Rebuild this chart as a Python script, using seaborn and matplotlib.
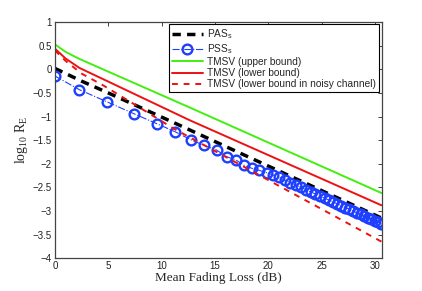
import numpy as np
import pandas as pd
import seaborn as sns
import matplotlib.pyplot as plt

# Data (x = mean fading loss in dB, y = log10 R_E)
pas_x = [0, 2.5, 5, 11.25, 20, 30.6]
pas_y = [0.02, -0.25, -0.5, -1.14, -2.05, -3.15]

pss_x = [0, 2.28, 4.9, 7.4, 9.53, 11.25, 12.72, 13.96, 15.15, 16.09, 16.96,
         17.71, 18.49, 19.15, 19.84, 20.46, 21.02, 21.56, 22.08, 22.58, 23.06,
         23.53, 23.98, 24.42, 24.85, 25.27, 25.68, 26.08, 26.47, 26.85, 27.22,
         27.59, 27.95, 28.30, 28.65, 28.99, 29.32, 29.65, 29.97, 30.29, 30.6]
pss_y = [-0.14, -0.43, -0.69, -0.94, -1.15, -1.32, -1.49, -1.61, -1.71, -1.85,
         -1.92, -2.03, -2.10, -2.14, -2.19, -2.24, -2.29, -2.35, -2.40, -2.45,
         -2.50, -2.55, -2.60, -2.64, -2.68, -2.73, -2.77, -2.81, -2.85, -2.89,
         -2.93, -2.96, -3.00, -3.04, -3.07, -3.11, -3.14, -3.17, -3.21, -3.24,
         -3.27]

upper_x = [0, 1, 2.3, 12.65, 30.6]
upper_y = [0.53, 0.37, 0.22, -0.81, -2.62]

lower_x = [0, 1, 2.3, 12.65, 30.6]
lower_y = [0.44, 0.23, 0.03, -1.08, -2.88]

noisy_x = [0, 1, 2.5, 4.53, 7.8, 11.09, 30.6]
noisy_y = [0.40, 0.18, -0.09, -0.34, -0.79, -1.25, -3.65]

sns.set_style('white')
plt.rcParams['font.family'] = ['Liberation Sans', 'DejaVu Sans']
plt.rcParams['mathtext.fontset'] = 'custom'
plt.rcParams['mathtext.rm'] = 'Liberation Serif'
plt.rcParams['mathtext.it'] = 'Liberation Serif:italic'
plt.rcParams['mathtext.sf'] = 'Liberation Sans'

fig = plt.figure(figsize=(4.22, 2.91), dpi=100)
ax = fig.add_axes([0.130, 0.113, 0.775, 0.811])

blue = '#1f3fff'
sns.lineplot(x=pas_x, y=pas_y, ax=ax, color='black', linestyle=(0, (2.4, 1.8)),
             linewidth=2.5, label=r'PAS$_\mathsf{s}$', sort=False)
sns.lineplot(x=pss_x, y=pss_y, ax=ax, color=blue, linestyle='-.',
             linewidth=0.8, marker='o', markersize=7, markeredgewidth=1.7,
             markerfacecolor='none', markeredgecolor=blue,
             label=r'PSS$_\mathsf{s}$', sort=False)
sns.lineplot(x=upper_x, y=upper_y, ax=ax, color='#44ee11', linewidth=1.4,
             label='TMSV (upper bound)', sort=False)
sns.lineplot(x=lower_x, y=lower_y, ax=ax, color='#ee1111', linewidth=1.4,
             label='TMSV (lower bound)', sort=False)
sns.lineplot(x=noisy_x, y=noisy_y, ax=ax, color='#ee1111', linewidth=1.4,
             linestyle=(0, (3, 3)),
             label='TMSV (lower bound in noisy channel)', sort=False)

ax.set_xlim(0, 30.65)
ax.set_ylim(-4, 1)
ax.set_xticks([0, 5, 10, 15, 20, 25, 30])
ax.set_yticks(np.arange(-4, 1.01, 0.5))
ax.set_yticklabels(['\u22124', '\u22123.5', '\u22123', '\u22122.5', '\u22122',
                    '\u22121.5', '\u22121', '\u22120.5', '0', '0.5', '1'])
ax.tick_params(direction='in', length=3, width=0.6, top=True, right=True,
               labelsize=7, pad=2, colors='#222222')
for s in ax.spines.values():
    s.set_color('#444444')
    s.set_linewidth(0.9)

ax.set_xlabel('Mean Fading Loss (dB)', family='Liberation Serif', fontsize=9.5,
              labelpad=1)
ax.set_ylabel(r'$\mathrm{log_{10}\ R_E}$', fontsize=10, labelpad=2)

leg = ax.legend(loc='upper right', bbox_to_anchor=(0.99, 0.99), borderaxespad=0,
                fontsize=7.3, handlelength=3.0, handletextpad=0.4,
                labelspacing=0.12, borderpad=0.3, fancybox=False,
                framealpha=1, edgecolor='black')
leg.get_frame().set_linewidth(0.8)

fig.savefig('out.png', dpi=100)
